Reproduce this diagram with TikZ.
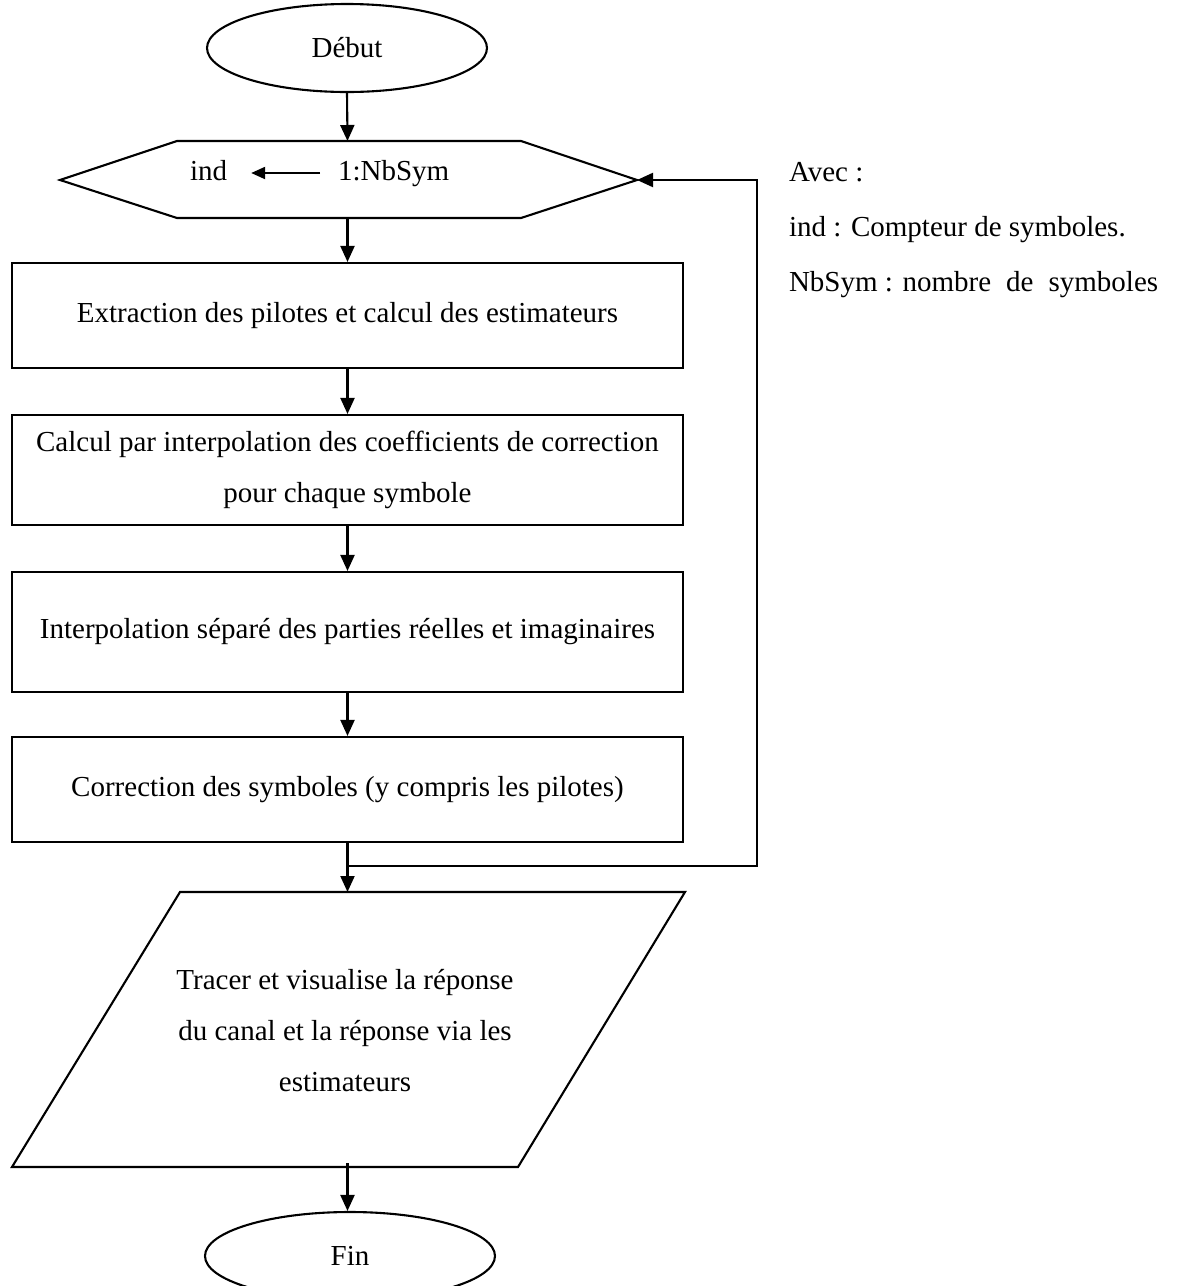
\documentclass[tikz,border=0pt]{standalone}
\usepackage{fontspec}
\setmainfont{Liberation Serif}
\usetikzlibrary{shapes.geometric,arrows.meta}
\begin{document}
\begin{tikzpicture}[x=1pt,y=-1pt,
  line width=2.1pt,
  every node/.style={font=\fontsize{29}{51}\selectfont},
  flow/.style={-{Triangle[length=16pt,width=14pt]}},
  assign/.style={-{Triangle[length=14pt,width=12pt]}},
  term/.style={draw, ellipse, minimum width=280pt, minimum height=88pt, inner sep=0pt},
  proc/.style={draw, rectangle, minimum width=671pt, inner sep=0pt, align=center},
  plain/.style={inner sep=0pt, align=center},
  hextext/.style={inner sep=0pt, anchor=base west, text height=20pt, text depth=6pt},
  note/.style={inner sep=0pt, anchor=base west}
]
\useasboundingbox (0,0) rectangle (1185,1286);
\clip (0,0) rectangle (1185,1286);

% start
\node[term] (debut) at (347,48) {Début};

% loop header (hexagon)
\draw (60,180) -- (177,141) -- (521,141) -- (637,180) -- (521,218) -- (177,218) -- cycle;
\coordinate (hexN) at (347.5,141);
\coordinate (hexS) at (347.5,218);
\coordinate (hexE) at (637,180);
\node[hextext] (ind) at (189,180) {ind};
\node[hextext] (nb) at (337,180) {1:NbSym};
\draw[assign, shorten <=17pt, shorten >=23pt] (nb.west) -- (ind.east);

% processing steps
\node[proc, minimum height=105pt] (b1) at (347.5,315.5) {Extraction des pilotes et calcul des estimateurs};
\node[proc, minimum height=110pt] (b2) at (347.5,470) {Calcul par interpolation des coefficients de correction\\pour chaque symbole};
\node[proc, minimum height=120pt] (b3) at (347.5,632) {Interpolation séparé des parties réelles et imaginaires};
\node[proc, minimum height=105pt] (b4) at (347.5,789.5) {Correction des symboles (y compris les pilotes)};

% output (parallelogram)
\draw (180,892) -- (685,892) -- (518,1167) -- (12,1167) -- cycle;
\coordinate (paraN) at (347.5,892);
\coordinate (paraS) at (347.5,1163);
\node[plain] (para) at (345,1031) {Tracer et visualise la réponse\\du canal et la réponse via les\\estimateurs};

% end
\node[term, minimum width=290pt] (fin) at (350,1256) {Fin};

% connectors
\draw[flow] (debut.south) -- (hexN);
\draw[flow] (hexS) -- (b1.north);
\draw[flow] (b1.south) -- (b2.north);
\draw[flow] (b2.south) -- (b3.north);
\draw[flow] (b3.south) -- (b4.north);
\draw[flow] (b4.south) -- (paraN);
\coordinate (j) at (347.5,866);
\coordinate (jr) at (757,866);
\draw[flow] (j) -- (jr) |- (hexE);
\draw[flow] (paraS) -- (paraS |- fin.north);

% legend
\node[note] (avec) at (788,181) {Avec :};
\node[note] (l1) at (788,236) {ind : Compteur de symboles.};
\node[note] (l2) at (788,291) {NbSym : nombre\hspace{15pt}de\hspace{15pt}symboles};
\end{tikzpicture}
\end{document}
